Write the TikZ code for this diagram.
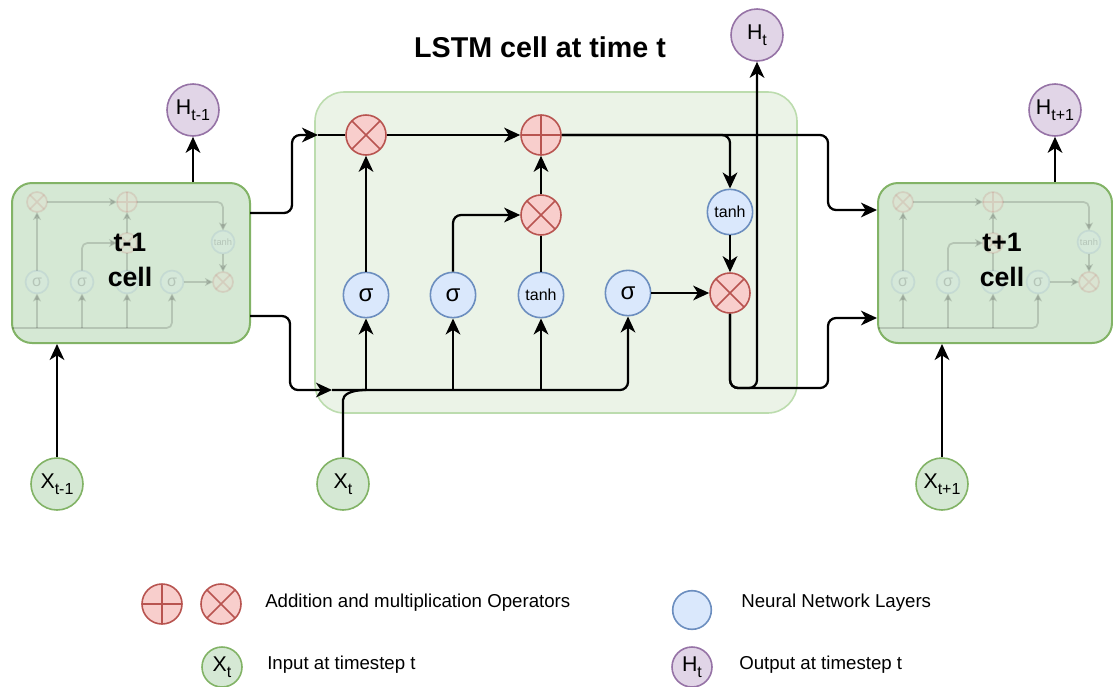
\documentclass[tikz,border=0pt]{standalone}
\usepackage{fontspec}
\setmainfont{Liberation Sans}
\usetikzlibrary{arrows.meta}

\definecolor{cellfill}{HTML}{D5E8D4}
\definecolor{cellline}{HTML}{82B366}
\definecolor{bigfill}{HTML}{EBF3E7}
\definecolor{bigline}{HTML}{BCDCAE}
\definecolor{opfill}{HTML}{F8CECC}
\definecolor{opline}{HTML}{B85450}
\definecolor{nnfill}{HTML}{DAE8FC}
\definecolor{nnline}{HTML}{6C8EBF}
\definecolor{outfill}{HTML}{E1D5E7}
\definecolor{outline}{HTML}{9673A6}

% subscript set low and smaller, as in the labels X_t and H_t
\newcommand\lowsub[1]{\raisebox{-0.55ex}{\fontsize{12}{12}\selectfont #1}}

% faded miniature of the cell internals (drawn in left-cell coordinates)
\newcommand\minimul[2]{%
  \filldraw[fill=opfill,draw=opline] (#1,#2) circle[radius=7.5pt];
  \draw[opline] (#1,#2) ++(-5.3pt,-5.3pt) -- ++(10.6pt,10.6pt)
                (#1,#2) ++(-5.3pt,5.3pt) -- ++(10.6pt,-10.6pt);}
\newcommand\miniadd[2]{%
  \filldraw[fill=opfill,draw=opline] (#1,#2) circle[radius=7.5pt];
  \draw[opline] (#1,#2) ++(-7.5pt,0pt) -- ++(15pt,0pt)
                (#1,#2) ++(0pt,-7.5pt) -- ++(0pt,15pt);}
\newcommand\minicirc[2]{%
  \filldraw[fill=nnfill,draw=nnline] (#1,#2) circle[radius=8.6pt];}
\newcommand\minilay[3]{%
  \minicirc{#1}{#2}
  \node[font=\fontsize{#3}{#3}\selectfont,inner sep=0pt] at (#1,#2) {\ifdim#3pt<8pt tanh\else σ\fi};}
\newcommand\minilstm{%
  \begin{scope}[opacity=0.15,line width=1.3pt,
      ma/.style={-{Stealth[length=6pt,width=6pt,inset=1.5pt]},rounded corners=4pt}]
    \draw[ma] (12,328) -- (172,328) -- (172,293.5);
    \draw[ma] (37,328) -- (37,293.5);
    \draw[ma] (82,328) -- (82,293.5);
    \draw[ma] (127,328) -- (127,293.5);
    \draw[ma] (37,270.5) -- (37,212);
    \draw[ma] (47,202) -- (117,202);
    \draw[ma] (82,270.5) -- (82,243) -- (117,243);
    \draw (127,270.5) -- (127,253);
    \draw[ma] (127,233) -- (127,212);
    \draw[ma] (137,202) -- (223,202) -- (223,230.5);
    \draw[ma] (223,253.5) -- (223,272);
    \draw[ma] (183.5,282) -- (213,282);
    \minimul{37}{202}
    \miniadd{127}{202}
    \minimul{127}{243}
    \minimul{223}{282}
    \minilay{37}{282}{12}
    \minilay{82}{282}{12}
    \minicirc{127}{282}
    \minilay{172}{282}{12}
    \minilay{223}{242}{7}
  \end{scope}}

\tikzset{
  cellbox/.style={draw=cellline,fill=cellfill,line width=1.5pt,rounded corners=15pt},
  celltext/.style={font=\bfseries\fontsize{20}{26}\selectfont,align=center},
  opbase/.style={circle,minimum size=30pt,inner sep=0pt,fill=opfill,draw=opline,line width=1.2pt},
  mul/.style={opbase,path picture={\draw[opline,line width=1.2pt]
      (path picture bounding box.north west) -- (path picture bounding box.south east)
      (path picture bounding box.north east) -- (path picture bounding box.south west);}},
  add/.style={opbase,path picture={\draw[opline,line width=1.2pt]
      (path picture bounding box.north) -- (path picture bounding box.south)
      (path picture bounding box.west) -- (path picture bounding box.east);}},
  layer/.style={circle,minimum size=34pt,inner sep=0pt,fill=nnfill,draw=nnline,line width=1.2pt,
      font=\fontsize{18}{18}\selectfont},
  tanhtext/.style={font=\fontsize{12}{12}\selectfont},
  inp/.style={circle,minimum size=39pt,inner sep=0pt,fill=cellfill,draw=cellline,line width=1.2pt,
      font=\fontsize{16}{16}\selectfont},
  outp/.style={circle,minimum size=39pt,inner sep=0pt,fill=outfill,draw=outline,line width=1.2pt,
      font=\fontsize{16}{16}\selectfont},
  legendtext/.style={anchor=west,inner sep=0pt,font=\fontsize{14}{14}\selectfont},
  wire/.style={line width=1.7pt,rounded corners=6pt},
  flow/.style={wire,-{Stealth[length=12pt,width=11pt,inset=3.5pt]}},
}

\begin{document}
\begin{tikzpicture}[x=0.75pt,y=-0.75pt]
\useasboundingbox (0,0) rectangle (1113,686);

% cell boxes
\node[draw=bigline,fill=bigfill,line width=1.2pt,rounded corners=22pt,
      minimum width=361.5pt,minimum height=240.75pt] (Bcell) at (556,252.5) {};
\node[cellbox,minimum width=178.5pt,minimum height=120pt] (Lcell) at (131,263) {};
\node[cellbox,minimum width=175.5pt,minimum height=120pt] (Rcell) at (995,263) {};
\minilstm
\begin{scope}[shift={(866,0)}]
\minilstm
\end{scope}
\node[celltext] (Ltxt) at (130,260) {t-1\\cell};
\node[celltext] (Rtxt) at (1002,260) {t+1\\cell};

% title
\node[font=\bfseries\fontsize{21.5}{21.5}\selectfont] (title) at (540,47) {LSTM cell at time t};

% operators and layers
\node[mul] (m1) at (366,135) {};
\node[add] (a1) at (541,135) {};
\node[mul] (m2) at (541,215) {};
\node[mul] (m3) at (730,293) {};
\node[layer] (s1) at (366,295) {σ};
\node[layer] (s2) at (453,295) {σ};
\node[layer,tanhtext] (th1) at (541,295) {tanh};
\node[layer] (s3) at (628,293) {σ};
\node[layer,tanhtext] (th2) at (730,212) {tanh};

% inputs and outputs
\node[outp] (Ht) at (757,35) {H\lowsub{t}};
\node[outp] (Htm) at (193,110) {H\lowsub{t-1}};
\node[outp] (Htp) at (1055,110) {H\lowsub{t+1}};
\node[inp] (Xtm) at (57,484) {X\lowsub{t-1}};
\node[inp] (Xt) at (343,484) {X\lowsub{t}};
\node[inp] (Xtp) at (942,484) {X\lowsub{t+1}};

% ports on the cell borders
\coordinate (Lout1) at (250,213);
\coordinate (Lout2) at (250,316);
\coordinate (Bin1) at (318,135);
\coordinate (Bin2) at (332,390);
\coordinate (Rin1) at (877,210);
\coordinate (Rin2) at (877,318);

% previous cell into this cell
\draw[flow] (Lout1) -- (292,213) -- (292,135) -- (Bin1);
\draw[wire] (Bin1) -- (m1.west);
\draw[flow] (Lout2) -- (290,316) -- (290,390) -- (Bin2);
\draw[flow] (Bin2) -- (628,390) -- (s3.south);
\draw[flow] (s1.south |- Bin2) -- (s1.south);
\draw[flow] (s2.south |- Bin2) -- (s2.south);
\draw[flow] (th1.south |- Bin2) -- (th1.south);
\draw[wire] (Xt.north) -- (343,408) .. controls (343,395) and (350,390) .. (366,390);

% gates
\draw[flow] (s1.north) -- (m1.south);
\draw[flow] (m1.east) -- (a1.west);
\draw[flow] (s2.north) -- (453,215) -- (m2.west);
\draw[wire] (th1.north) -- (m2.south);
\draw[flow] (m2.north) -- (a1.south);
\draw[flow] (a1.east) -- (828,135) -- (828,210) -- (Rin1);
\draw[flow] (a1.east) -- (730,135) -- (th2.north);
\draw[flow] (th2.south) -- (m3.north);
\draw[flow] (s3.east) -- (m3.west);
\draw[flow] (m3.south) -- (730,388) -- (828,388) -- (828,318) -- (Rin2);
\draw[flow] (m3.south) -- (730,388) -- (757,388) -- (Ht.south);

% neighbouring cells
\draw[flow] (Htm |- Lcell.north) -- (Htm.south);
\draw[flow] (Htp |- Rcell.north) -- (Htp.south);
\draw[flow] (Xtm.north) -- (Xtm |- Lcell.south);
\draw[flow] (Xtp.north) -- (Xtp |- Rcell.south);

% legend
\node[add] (lgAdd) at (162,604) {};
\node[mul] (lgMul) at (221,604) {};
\node[legendtext] (lgOps) at (265,603) {Addition and multiplication Operators};
\node[layer,minimum size=29pt] (lgNN) at (692,610) {};
\node[legendtext] (lgNNtxt) at (741,603) {Neural Network Layers};
\node[inp,minimum size=30pt] (lgX) at (222,667) {X\lowsub{t}};
\node[legendtext] (lgXtxt) at (267,665) {Input at timestep t};
\node[outp,minimum size=30pt] (lgH) at (692,667) {H\lowsub{t}};
\node[legendtext] (lgHtxt) at (739,665) {Output at timestep t};
\end{tikzpicture}
\end{document}
